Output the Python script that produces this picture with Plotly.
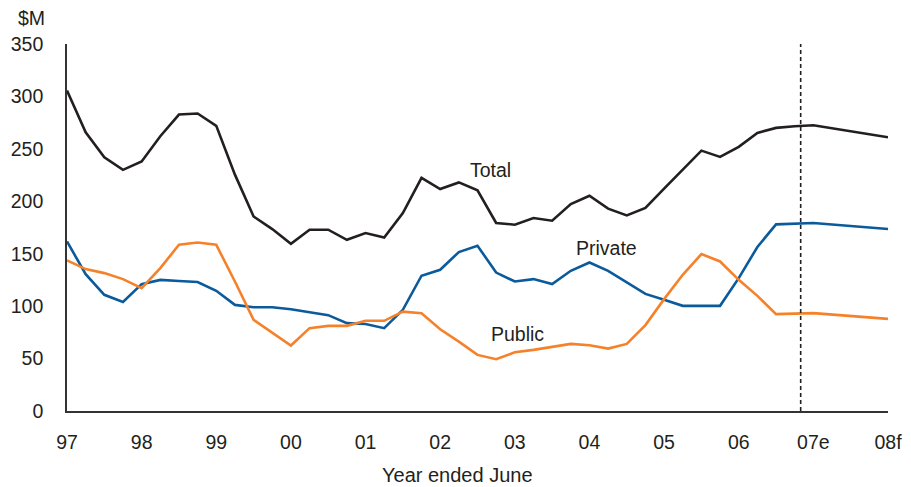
import numpy as np
import plotly.graph_objects as go

# Tick labels (year ended June)
tick_labels = ["97", "98", "99", "00", "01", "02", "03", "04", "05", "06", "07e", "08f"]

# Quarterly values, Jun-97 .. Jun-07, $M
total_q = [305.6, 265.8, 242, 230, 238, 262, 282.7, 283.7, 272, 225.4, 185.5, 173.5,
           159.5, 172.9, 172.9, 163.3, 169.7, 165.5, 188.8, 222.3, 211.7, 218, 210.4,
           179.3, 177.7, 184, 181.5, 197.4, 205.3, 193, 186.5, 193.6, 212, 230, 248.3,
           242.3, 251.9, 265.2, 270, 271.5, 272.5]
private_q = [161.7, 130.5, 110.8, 104, 121, 125, 124, 123, 114.6, 101.2, 99, 99, 97, 94,
             91.4, 83.8, 83, 79, 96.5, 129, 134.7, 151.6, 157.6, 132, 123.5, 125.8, 121,
             133.7, 141.6, 133.7, 122.5, 111.7, 106, 100.3, 100.3, 100.3, 126.7, 156.4,
             178, 178.6, 179.3]
public_q = [143.6, 135.3, 131.5, 125.8, 117.2, 136.3, 158.5, 160.7, 158.5, 123.5, 86.9,
            74.8, 62.4, 79, 81.2, 81.2, 86, 86, 94.8, 93.3, 78, 66.2, 53.5, 49.4, 56, 58.3,
            60.8, 64, 62.7, 59.5, 64, 81.9, 106.7, 129.9, 149.7, 142.6, 125.1, 109.8, 92.4,
            93, 93.3]
# 2008 forecast (annual)
total_f = [261]
private_f = [173.5]
public_f = [87.9]

n_q = len(total_q)
x = list(np.arange(n_q) / 4.0) + [len(tick_labels) - 1]

FONT = "Liberation Sans, Arial, sans-serif"
TXT = "#231f20"
FS = 19.5

fig = go.Figure()
fig.add_trace(go.Scatter(x=x, y=total_q + total_f, mode="lines", name="Total",
                         line=dict(color="#231f20", width=2.6), showlegend=False))
fig.add_trace(go.Scatter(x=x, y=private_q + private_f, mode="lines", name="Private",
                         line=dict(color="#0a5a9c", width=2.6), showlegend=False))
fig.add_trace(go.Scatter(x=x, y=public_q + public_f, mode="lines", name="Public",
                         line=dict(color="#f5822a", width=2.6), showlegend=False))

# forecast divider
fig.add_shape(type="line", x0=9.83, x1=9.83, y0=0, y1=350, xref="x", yref="y",
              line=dict(color="#231f20", width=1.6, dash="4px,3px"))

fig.add_annotation(x=5.68, y=230, text="Total", showarrow=False,
                   font=dict(family=FONT, size=FS, color=TXT))
fig.add_annotation(x=7.23, y=155, text="Private", showarrow=False,
                   font=dict(family=FONT, size=FS, color=TXT))
fig.add_annotation(x=6.04, y=73.5, text="Public", showarrow=False,
                   font=dict(family=FONT, size=FS, color=TXT))
fig.add_annotation(x=-0.024, y=1.072, xref="paper", yref="paper", text="$M",
                   showarrow=False, xanchor="right", yanchor="middle",
                   font=dict(family=FONT, size=FS, color=TXT))
# x-axis title (sits left of centre in the original)
fig.add_annotation(x=0.4762, y=-0.1744, xref="paper", yref="paper", text="Year ended June",
                   showarrow=False, xanchor="center", yanchor="middle",
                   font=dict(family=FONT, size=20, color=TXT))

fig.update_layout(
    width=911, height=487,
    margin=dict(l=67, r=23, t=44, b=76),
    paper_bgcolor="white", plot_bgcolor="white",
    font=dict(family=FONT, size=FS, color=TXT),
    xaxis=dict(range=[0, 11], tickvals=list(range(len(tick_labels))), ticktext=tick_labels,
               showgrid=False, zeroline=False, showline=True, linecolor="#333333",
               linewidth=1.6, ticks="", ticklabelstandoff=13, automargin=False),
    yaxis=dict(range=[0, 350], tickvals=list(range(0, 351, 50)), automargin=False,
               showgrid=False, zeroline=False, showline=True, linecolor="#333333",
               linewidth=1.6, ticks="", ticklabelstandoff=18),
)

fig.write_html("out.html")
